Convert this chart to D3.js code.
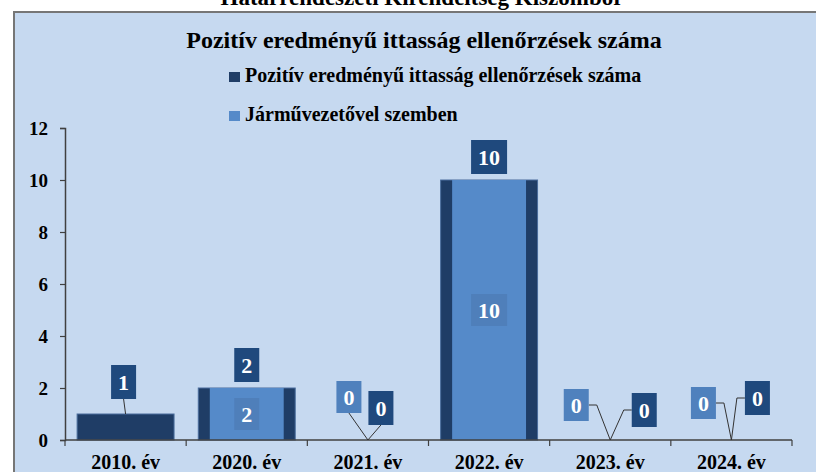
<!DOCTYPE html>
<html>
<head>
<meta charset="utf-8">
<script src="https://cdn.jsdelivr.net/npm/d3@7/dist/d3.min.js"></script>
<style>
  body { margin: 0; background: #fff; }
  svg text { font-family: "Liberation Serif", "Times New Roman", serif; font-weight: bold; }
</style>
</head>
<body>
<div id="chart"></div>
<script>
var categories = ["2010. év", "2020. év", "2021. év", "2022. év", "2023. év", "2024. év"];
var pozitivValues = [1, 2, 0, 10, 0, 0];
var jarmuValues = [null, 2, 0, 10, 0, 0];
var yTicks = [0, 2, 4, 6, 8, 10, 12];
var seriesNames = ["Pozitív eredményű ittasság ellenőrzések száma", "Járművezetővel szemben"];
var outerTitle = "Határrendészeti Kirendeltség Kiszombor";
var chartTitle = "Pozitív eredményű ittasság ellenőrzések száma";

// label placement (dx from category centre, gap above the bar top)
var darkLabelShift = [[-2, 15], [0, 6], [13, 15], [0, 6], [34, 13], [26, 25]];
var lightLabelShift = [null, null, [-19, 27], null, [-34, 19], [-28, 21]];

var colors = {
    frame: "#c6d9f0",
    dark: "#1f3d66",
    light: "#558ac9",
    darkBox: "#1f497d",
    lightBox: "#4f81bd",
    lightBoxIn: "#4f7fba",
    axis: "#404040"
};

var width = 816, height = 472;
var svg = d3.select("#chart").append("svg")
    .attr("width", width)
    .attr("height", height);

svg.append("text")
    .attr("x", 422).attr("y", 5)
    .attr("text-anchor", "middle")
    .style("font-size", "23px")
    .text(outerTitle);

svg.append("rect")
    .attr("x", 14).attr("y", 12)
    .attr("width", 830).attr("height", 480)
    .attr("fill", colors.frame)
    .attr("stroke", "#767676")
    .attr("stroke-width", 2);

svg.append("text")
    .attr("x", 424).attr("y", 48)
    .attr("text-anchor", "middle")
    .style("font-size", "24px")
    .text(chartTitle);

// legend
var legend = svg.append("g").attr("transform", "translate(229,0)");
[[colors.dark, 82], [colors.light, 121]].forEach(function(l, i) {
    legend.append("rect")
        .attr("x", 0).attr("y", l[1] - 10)
        .attr("width", 11).attr("height", 10)
        .attr("fill", l[0]);
    legend.append("text")
        .attr("x", 16).attr("y", l[1])
        .style("font-size", "20px")
        .text(seriesNames[i]);
});

var x = d3.scaleBand().domain(categories).range([65, 792]);
var y = d3.scaleLinear().domain([0, 12]).range([440, 128]);
var bw = x.bandwidth();
var darkW = bw * 0.8, lightW = bw * 0.61;

var plot = svg.append("g");

// bars
plot.selectAll("rect.dark")
    .data(pozitivValues)
    .enter().append("rect")
    .attr("class", "dark")
    .attr("x", function(d, i) { return x(categories[i]) + (bw - darkW) / 2; })
    .attr("y", function(d) { return y(d); })
    .attr("width", darkW)
    .attr("height", function(d) { return y(0) - y(d); })
    .attr("fill", colors.dark)
    .attr("stroke", "#4a6d9c")
    .attr("stroke-width", function(d) { return d > 0 ? 1 : 0; });

plot.selectAll("rect.light")
    .data(jarmuValues)
    .enter().append("rect")
    .attr("class", "light")
    .attr("x", function(d, i) { return x(categories[i]) + (bw - lightW) / 2; })
    .attr("y", function(d) { return y(d || 0); })
    .attr("width", lightW)
    .attr("height", function(d) { return y(0) - y(d || 0); })
    .attr("fill", colors.light);

// axes
var yAxis = d3.axisLeft(y).tickValues(yTicks).tickSize(5).tickPadding(12);
var gy = svg.append("g").attr("transform", "translate(65,0)").call(yAxis);
gy.select(".domain").attr("stroke", colors.axis).attr("stroke-width", 1.5);
gy.selectAll(".tick line").attr("stroke", colors.axis).attr("stroke-width", 1.2);
gy.selectAll(".tick text").style("font-size", "19px").attr("fill", "#000");

var bounds = categories.map(function(c) { return x(c); }).concat([x.range()[1]]);
svg.append("line")
    .attr("x1", 65).attr("x2", 792)
    .attr("y1", y(0)).attr("y2", y(0))
    .attr("stroke", colors.axis).attr("stroke-width", 1.5);
svg.selectAll("line.xtick")
    .data(bounds)
    .enter().append("line")
    .attr("x1", function(d) { return d; }).attr("x2", function(d) { return d; })
    .attr("y1", y(0)).attr("y2", y(0) + 6)
    .attr("stroke", colors.axis).attr("stroke-width", 1.2);
svg.selectAll("text.xlab")
    .data(categories)
    .enter().append("text")
    .attr("x", function(d) { return x(d) + bw / 2; })
    .attr("y", 469)
    .attr("text-anchor", "middle")
    .style("font-size", "20px")
    .text(function(d) { return d; });

// data labels
var labels = svg.append("g");
var drawLabel = function(value, cx, cy, fill, boxH) {
    var g = labels.append("g");
    var t = g.append("text")
        .attr("x", cx).attr("y", cy + 8)
        .attr("text-anchor", "middle")
        .attr("fill", "#fff")
        .style("font-size", "22px")
        .text(value);
    var w = t.node().getComputedTextLength() + 14;
    g.insert("rect", "text")
        .attr("x", cx - w / 2).attr("y", cy - boxH / 2)
        .attr("width", w).attr("height", boxH)
        .attr("fill", fill);
    return w;
};

var leader = function(pts) {
    labels.insert("path", ":first-child")
        .attr("d", d3.line()(pts))
        .attr("fill", "none")
        .attr("stroke", "#333")
        .attr("stroke-width", 1);
};

pozitivValues.forEach(function(v, i) {
    var cx = x(categories[i]) + bw / 2;
    var s = darkLabelShift[i];
    var boxH = 34;
    var bx = cx + s[0], by = y(v) - s[1] - boxH / 2;
    var w = drawLabel(v, bx, by, colors.darkBox, boxH);
    if (Math.abs(s[0]) > 20) {
        var sx = bx - w / 2;
        leader([[sx, by], [sx - 8, by], [cx, y(v)]]);
    } else if (s[1] > 10) {
        leader([[bx, by + boxH / 2], [cx, y(v)]]);
    }
});

jarmuValues.forEach(function(v, i) {
    if (v === null) return;
    var cx = x(categories[i]) + bw / 2;
    var s = lightLabelShift[i];
    var boxH = 32;
    if (!s) {
        drawLabel(v, cx, (y(v) + y(0)) / 2, colors.lightBoxIn, boxH);
        return;
    }
    var bx = cx + s[0], by = y(v) - s[1] - boxH / 2;
    var w = drawLabel(v, bx, by, colors.lightBox, boxH);
    if (Math.abs(s[0]) > 20) {
        var sx = bx + w / 2;
        leader([[sx, by], [sx + 8, by], [cx, y(v)]]);
    } else {
        leader([[bx, by + boxH / 2], [cx, y(v)]]);
    }
});
</script>
</body>
</html>
